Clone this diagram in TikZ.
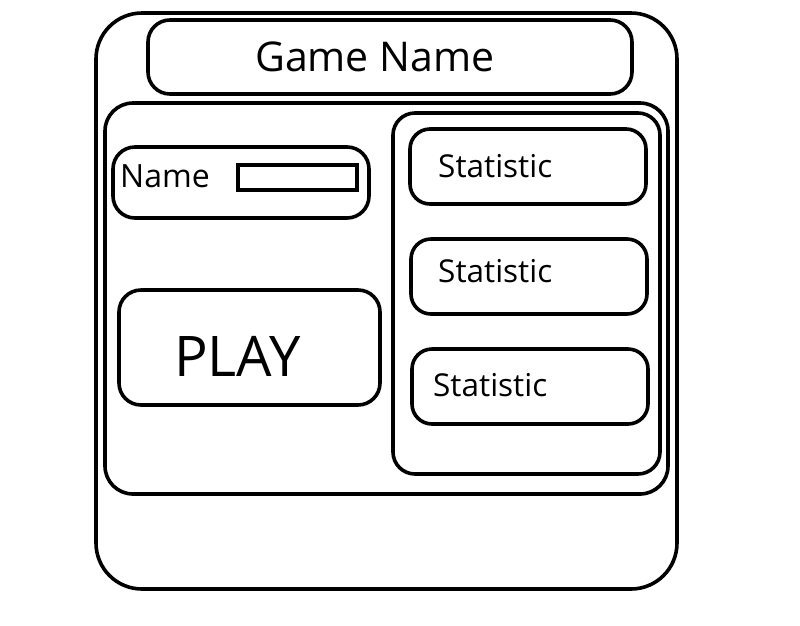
\documentclass[tikz,border=0pt]{standalone}
\usepackage{fontspec}
\setmainfont{Open Sans}
\usepackage{tikz}

\tikzset{
  frame/.style={line width=3.6pt, rounded corners=#1},
  frame/.default=20pt,
  label/.style={inner sep=0pt, anchor=west}
}

\begin{document}
\begin{tikzpicture}[x=1pt, y=-1pt]
  % Canvas
  \useasboundingbox (0,0) rectangle (800,625);

  % Outer window
  \draw[frame=46pt] (96,13) rectangle (677,589);

  % Title bar
  \draw[frame=22pt] (148,20) rectangle (632,94);
  \node[label] (title) at (255,57) {\fontsize{41}{41}\selectfont Game Name};

  % Main panel
  \draw[frame=28pt] (105,103) rectangle (668,494);

  % Name entry
  \draw[frame=22pt] (113,147) rectangle (369,218);
  \node[label] (name) at (120,176) {\fontsize{32}{32}\selectfont Name};
  \draw[line width=3.6pt] (238,165) rectangle (357,190);

  % Play button
  \draw[frame=22pt] (119,290) rectangle (380,405);
  \node[label] (play) at (174,356) {\fontsize{56}{56}\selectfont PLAY};

  % Statistics panel
  \draw[frame=22pt] (393,113) rectangle (660,474);

  % Statistic boxes
  \draw[frame=20pt] (410,129) rectangle (646,204);
  \node[label] (stat1) at (438,166) {\fontsize{31.5}{31.5}\selectfont Statistic};

  \draw[frame=20pt] (411,239) rectangle (647,314);
  \node[label] (stat2) at (438,271) {\fontsize{31.5}{31.5}\selectfont Statistic};

  \draw[frame=20pt] (412,349) rectangle (648,424);
  \node[label] (stat3) at (433,385) {\fontsize{31.5}{31.5}\selectfont Statistic};

\end{tikzpicture}
\end{document}
